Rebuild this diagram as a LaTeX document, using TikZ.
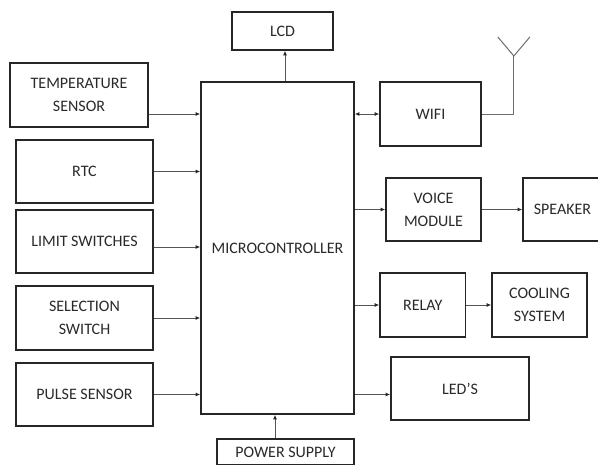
\documentclass[tikz,border=0pt]{standalone}
\usepackage{fontspec}
\setmainfont{Carlito}
\usetikzlibrary{arrows.meta,calc}
\definecolor{ink}{HTML}{262626}
\definecolor{wire}{HTML}{555555}
\definecolor{txt}{HTML}{2A2A2A}
\tikzset{
  blockbox/.style={draw=ink,line width=1.7pt,fill=white,text=txt,align=center,inner sep=0pt,
    font=\fontsize{16}{23}\selectfont},
  conn/.style={draw=wire,line width=0.8pt,-{Latex[length=4.5pt,width=4pt,color=ink]}},
  conn2/.style={draw=wire,line width=0.8pt,{Latex[length=4.5pt,width=4pt,color=ink]}-{Latex[length=4.5pt,width=4pt,color=ink]}},
  aerial/.style={draw=wire!85,line width=1pt,line join=miter}
}
\newcommand{\blk}[6]{\node[blockbox,minimum width=#4pt-#2pt,minimum height=#5pt-#3pt] (#1) at ({(#2+#4)/2*1pt},{-(#3+#5)/2*1pt}) {#6};}
\begin{document}
\begin{tikzpicture}[x=1pt,y=-1pt]
\useasboundingbox (0,0) rectangle (598,464);
\clip (0,0) rectangle (598,464);
\fill[white] (0,0) rectangle (598,464);
\blk{lcd}{232}{12}{333}{50}{LCD}
\blk{temp}{10}{63}{148}{127}{TEMPERATURE\\SENSOR}
\blk{rtc}{16}{140}{153}{203}{RTC}
\blk{limit}{16}{210}{153}{273}{LIMIT SWITCHES}
\blk{sel}{16}{286}{153}{350}{SELECTION\\SWITCH}
\blk{pulse}{16}{363}{153}{426}{PULSE SENSOR}
\blk{mcu}{201}{82}{354}{414}{MICROCONTROLLER}
\blk{power}{217}{439}{354}{465}{POWER SUPPLY}
\blk{wifi}{380}{82}{481}{146}{WIFI}
\blk{voice}{386}{178}{481}{241}{VOICE\\MODULE}
\blk{speaker}{523}{178}{602}{241}{SPEAKER}
\blk{relay}{380}{273}{465.5}{337}{RELAY}
\blk{cool}{492}{273}{587}{337}{COOLING\\SYSTEM}
\blk{led}{391}{357}{529}{420}{LED’S}
\coordinate (ant) at ([xshift=32pt,yshift=58pt]wifi.east);
\coordinate (antl) at ([xshift=-16pt,yshift=19pt]ant);
\coordinate (antr) at ([xshift=16pt,yshift=19pt]ant);
\draw[conn] ([yshift=-19pt]temp.east) -- ([yshift=-19pt]temp.east -| mcu.west);
\draw[conn] (rtc.east) -- (rtc.east -| mcu.west);
\draw[conn] ([yshift=-5.5pt]limit.east) -- ([yshift=-5.5pt]limit.east -| mcu.west);
\draw[conn] (sel.east) -- (sel.east -| mcu.west);
\draw[conn] (pulse.east) -- (pulse.east -| mcu.west);
\draw[conn] ([xshift=2.5pt]mcu.north -| lcd.south) -- ([xshift=2.5pt]lcd.south);
\draw[conn] ([xshift=-10.5pt]power.north) -- ([xshift=-10.5pt]power.north |- mcu.south);
\draw[conn2] (wifi.west -| mcu.east) -- (wifi.west);
\draw[conn] (voice.west -| mcu.east) -- (voice.west);
\draw[conn] (voice.east) -- (speaker.west);
\draw[conn] (relay.west -| mcu.east) -- (relay.west);
\draw[conn] (relay.east) -- (cool.west);
\draw[conn] ([yshift=-6pt]led.west -| mcu.east) -- ([yshift=-6pt]led.west);
\draw[aerial] (wifi.east) -| (ant);
\draw[aerial] (antl) -- (ant) -- (antr);
\end{tikzpicture}
\end{document}
